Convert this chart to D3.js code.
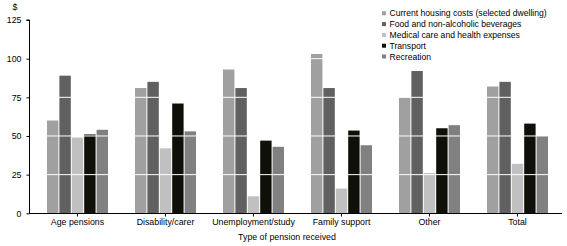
<!DOCTYPE html>
<html><head><meta charset="utf-8">
<script src="https://cdn.jsdelivr.net/npm/d3@7/dist/d3.min.js"></script>
<style>
body{margin:0;background:#fff;}
svg text{font-family:"Liberation Sans",Arial,sans-serif;fill:#000;}
</style></head>
<body><svg id="c" width="567" height="246"></svg>
<script>
const categories = ["Age pensions","Disability/carer","Unemployment/study","Family support","Other","Total"];
const seriesNames = ["Current housing costs (selected dwelling)","Food and non-alcoholic beverages","Medical care and health expenses","Transport","Recreation"];
const housing    = [60, 81, 93, 103, 75, 82];
const food       = [89, 85, 81, 81, 92, 85];
const medical    = [49, 42, 11, 16, 26, 32];
const transport  = [51, 71, 47, 53.5, 55, 58];
const recreation = [54, 53, 43, 44, 57, 50];
const yTicks = [0, 25, 50, 75, 100, 125];
const colors = ["#a0a0a0","#606060","#c0c0c0","#10100a","#808080"];

const series = [housing, food, medical, transport, recreation];
const svg = d3.select("#c");
const y = d3.scaleLinear().domain([0,125]).range([213.3, 20]);
const x0 = d3.scaleBand().domain(categories).range([33.5, 561.5]).paddingInner(0.307).paddingOuter(0.1535);
const x1 = d3.scaleBand().domain(d3.range(5)).range([0, x0.bandwidth()]).paddingInner(0.08);

const g = svg.append("g");
categories.forEach((c, i) => {
  series.forEach((s, k) => {
    g.append("rect")
      .attr("x", x0(c) + x1(k))
      .attr("y", y(s[i]))
      .attr("width", x1.bandwidth())
      .attr("height", y(0) - y(s[i]))
      .attr("fill", colors[k]);
  });
});

// white gridlines over bars
yTicks.filter(t => t > 0).forEach(t => {
  svg.append("line").attr("x1", 30).attr("x2", 562)
    .attr("y1", y(t)).attr("y2", y(t))
    .attr("stroke", "#fff").attr("stroke-width", 1);
});

// y axis
const yAxis = svg.append("g").attr("transform", "translate(29.5,0)")
  .call(d3.axisLeft(y).tickValues(yTicks).tickSize(3).tickPadding(5));
yAxis.select(".domain").attr("d", `M-3,${y(125)}H0V${y(0)}`);
yAxis.selectAll("text").style("font-size", "8.8px");

// x axis
const xAxis = svg.append("g").attr("transform", `translate(0,${y(0)+0.2})`)
  .call(d3.axisBottom(x0).tickSize(3).tickPadding(2));
xAxis.select(".domain").attr("d", `M29,0H562`);
xAxis.selectAll("text").style("font-size", "8.8px");

svg.append("text").attr("x", 15).attr("y", 10).attr("text-anchor", "middle").style("font-size", "8.8px").text("$");
svg.append("text").attr("x", 287).attr("y", 240).attr("text-anchor", "middle").style("font-size", "8.8px").text("Type of pension received");

// legend
const leg = svg.append("g");
seriesNames.forEach((n, k) => {
  const cy = 13.3 + k * 10.8;
  leg.append("rect").attr("x", 382).attr("y", cy - 2).attr("width", 4).attr("height", 4).attr("fill", colors[k]);
  leg.append("text").attr("x", 389.5).attr("y", cy + 3).style("font-size", "8.6px").text(n);
});
</script></body></html>
